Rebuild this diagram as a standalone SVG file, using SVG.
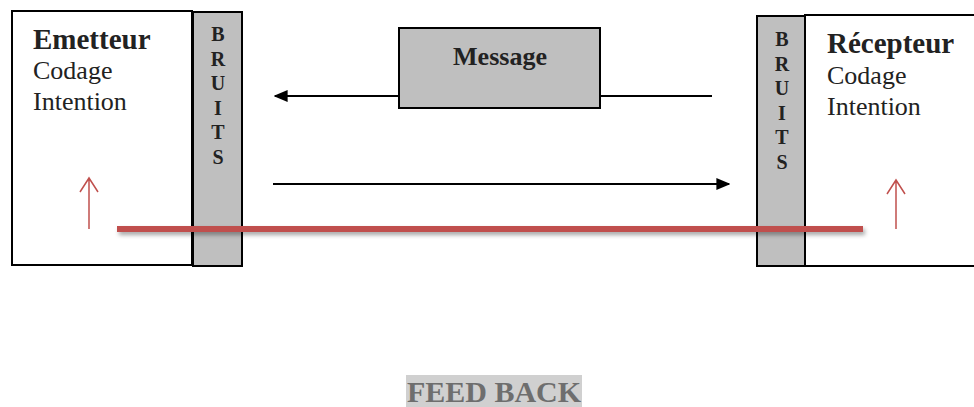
<svg xmlns="http://www.w3.org/2000/svg" width="974" height="407" viewBox="0 0 974 407">
<style>
.box{fill:#fff;stroke:#000;stroke-width:2}
.noise{fill:#bfbfbf;stroke:#000;stroke-width:2}
.t{font-family:"Liberation Serif","Times New Roman",serif;fill:#222}
.b{font-weight:bold}
.bl{font-family:"Liberation Serif","Times New Roman",serif;font-weight:bold;font-size:20px;fill:#222;text-anchor:middle}
.ln{stroke:#000;stroke-width:2;fill:none}
.red{stroke:#c0504d;fill:none}
.fb{fill:#6e6e6e}
</style>
<defs>
<marker id="ah" viewBox="0 0 10 10" refX="9" refY="5" markerWidth="7" markerHeight="6" orient="auto-start-reverse" preserveAspectRatio="none"><path d="M0,0L10,5L0,10z" fill="#000"/></marker>
<filter id="sh" x="-5%" y="-100%" width="110%" height="400%"><feDropShadow dx="2" dy="3" stdDeviation="2" flood-color="#000" flood-opacity="0.35"/></filter>
</defs>
<g id="emetteur">
<rect class="box" x="12" y="11" width="180" height="254"/>
<text class="t b" x="33" y="49" font-size="29">Emetteur</text>
<text class="t" x="33" y="79" font-size="26">Codage</text>
<text class="t" x="33" y="110" font-size="26">Intention</text>
</g>
<g id="bruits-left">
<rect class="noise" x="193" y="12" width="49" height="254"/>
<text class="bl" x="218" y="41">B</text>
<text class="bl" x="218" y="66">R</text>
<text class="bl" x="218" y="90">U</text>
<text class="bl" x="218" y="115">I</text>
<text class="bl" x="218" y="139">T</text>
<text class="bl" x="218" y="164">S</text>
</g>
<g id="recepteur">
<rect class="box" x="805" y="15" width="175" height="251"/>
<text class="t b" x="827" y="53" font-size="29">Récepteur</text>
<text class="t" x="827" y="84" font-size="26">Codage</text>
<text class="t" x="827" y="115" font-size="26">Intention</text>
</g>
<g id="bruits-right">
<rect class="noise" x="757" y="16" width="48" height="250"/>
<text class="bl" x="782" y="46">B</text>
<text class="bl" x="782" y="71">R</text>
<text class="bl" x="782" y="95">U</text>
<text class="bl" x="782" y="120">I</text>
<text class="bl" x="782" y="144">T</text>
<text class="bl" x="782" y="169">S</text>
</g>
<g id="message">
<rect class="noise" x="399" y="28" width="201" height="80"/>
<text class="t b" x="500" y="65" font-size="26" text-anchor="middle">Message</text>
</g>
<g id="connectors">
<line class="ln" x1="399" y1="96" x2="275" y2="96" marker-end="url(#ah)"/>
<line class="ln" x1="600" y1="96" x2="712" y2="96"/>
<line class="ln" x1="273" y1="184" x2="729" y2="184" marker-end="url(#ah)"/>
<rect x="117" y="226" width="746" height="6" fill="#c0504d" filter="url(#sh)"/>
<path class="red" stroke-width="1.5" d="M89,229V178M80,192L89,178L98,192"/>
<path class="red" stroke-width="1.5" d="M896,229V180M887,194L896,180L905,194"/>
</g>
<g id="feedback">
<rect x="406" y="375" width="176" height="32" fill="#d0d0d0"/>
<text class="t b fb" x="494" y="402" font-size="30" text-anchor="middle">FEED BACK</text>
</g>
</svg>
